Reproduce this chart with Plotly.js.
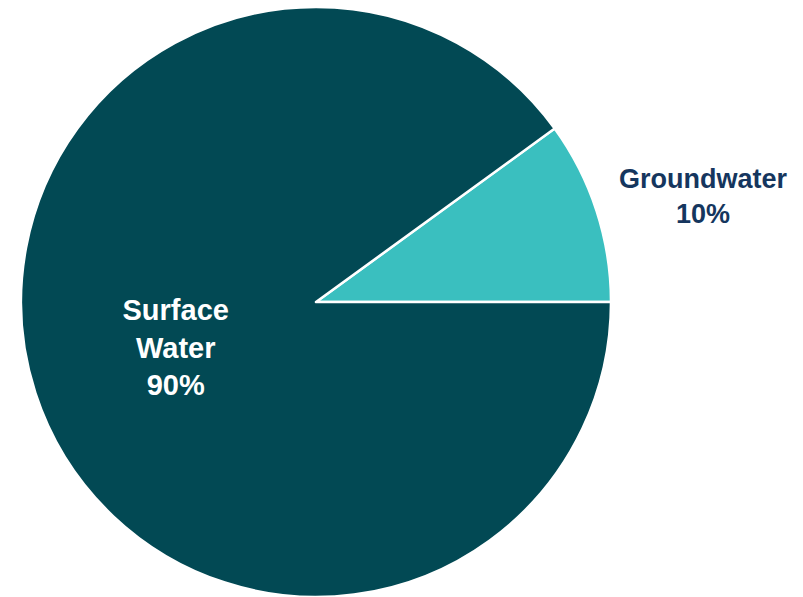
<!DOCTYPE html>
<html>
<head>
<meta charset="utf-8">
<script src="https://cdn.plot.ly/plotly-3.0.1.min.js"></script>
<style>html,body{margin:0;padding:0;background:#fff;}#chart{width:803px;height:597px;}</style>
</head>
<body>
<div id="chart"></div>
<script>
const labels = ['Groundwater', 'Surface Water'];
const values = [10, 90];
const colors = ['#3abfbf', '#024954'];

const sliceText = labels.map((l, i) => l.replace(' ', '<br>') + '<br>' + values[i] + '%');

const trace = {
  type: 'pie',
  labels: labels,
  values: values,
  text: sliceText,
  textinfo: 'text',
  textposition: ['none', 'inside'],
  insidetextorientation: 'horizontal',
  insidetextfont: {family: 'Liberation Sans, Arial, sans-serif', size: 29, color: '#ffffff', weight: 'bold'},
  hoverinfo: 'none',
  sort: false,
  direction: 'clockwise',
  rotation: 54,
  marker: {colors: colors, line: {color: '#ffffff', width: 2.5}},
  domain: {x: [20/803, 612/803], y: [0, 1]},
  showlegend: false
};

const layout = {
  width: 803,
  height: 597,
  margin: {l: 0, r: 0, t: 7, b: 0},
  paper_bgcolor: '#ffffff',
  plot_bgcolor: '#ffffff',
  showlegend: false,
  annotations: [{
    text: '<b>' + labels[0] + '<br>' + values[0] + '%</b>',
    xref: 'paper', yref: 'paper',
    x: 703/803, y: 0.678,
    xanchor: 'center', yanchor: 'middle',
    showarrow: false,
    font: {family: 'Liberation Sans, Arial, sans-serif', size: 27, color: '#15365e'}
  }]
};

Plotly.newPlot('chart', [trace], layout, {displayModeBar: false, staticPlot: true});
</script>
</body>
</html>
